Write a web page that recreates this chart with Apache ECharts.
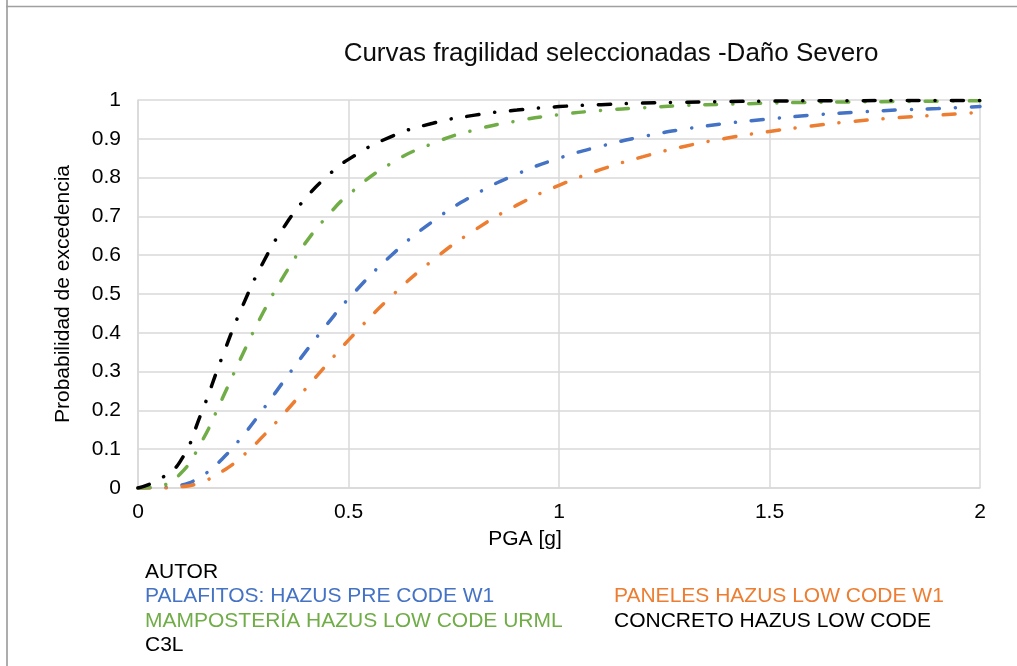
<!DOCTYPE html>
<html>
<head>
<meta charset="utf-8">
<script src="https://cdn.jsdelivr.net/npm/echarts@6/dist/echarts.min.js"></script>
<style>
html,body{margin:0;padding:0;background:#fff;}
#chart{width:1017px;height:666px;}
</style>
</head>
<body>
<div id="chart"></div>
<script>
// ---- data ----
const pga = [0,0.05,0.1,0.15,0.2,0.25,0.3,0.35,0.4,0.45,0.5,0.6,0.7,0.8,0.9,1.0,1.1,1.2,1.3,1.4,1.5,1.6,1.7,1.8,1.9,2.0];
const palafitos   = [0,0.001,0.007,0.030,0.075,0.136,0.207,0.281,0.354,0.423,0.488,0.598,0.687,0.756,0.809,0.850,0.881,0.906,0.925,0.940,0.951,0.961,0.968,0.974,0.978,0.983];
const paneles     = [0,0,0.003,0.015,0.043,0.084,0.137,0.196,0.258,0.320,0.381,0.492,0.587,0.665,0.729,0.780,0.821,0.854,0.881,0.902,0.919,0.933,0.945,0.954,0.961,0.968];
const mamposteria = [0,0.005,0.036,0.117,0.230,0.348,0.458,0.553,0.635,0.701,0.756,0.836,0.888,0.923,0.946,0.962,0.973,0.980,0.986,0.989,0.992,0.994,0.995,0.996,0.997,0.998];
const concreto    = [0,0.022,0.068,0.192,0.338,0.473,0.587,0.678,0.749,0.804,0.847,0.905,0.940,0.961,0.974,0.983,0.988,0.992,0.994,0.996,0.997,0.998,0.998,0.999,0.999,0.999];

const seriesNames = ['PALAFITOS: HAZUS PRE CODE W1','PANELES HAZUS LOW CODE W1','MAMPOSTERÍA HAZUS LOW CODE URML','CONCRETO HAZUS LOW CODE C3L'];
const seriesValues = [palafitos, paneles, mamposteria, concreto];
const seriesColors = ['#4472C4','#ED7D31','#70AD47','#000000'];

const titleText = 'Curvas fragilidad seleccionadas -Daño Severo';
const xAxisName = 'PGA [g]';
const yAxisName = 'Probabilidad de excedencia';

// legend text lines (as laid out in the reference)
const legendLines = [
  {text:'AUTOR', color:'#000000', col:0, row:0},
  {text:'PALAFITOS: HAZUS PRE CODE W1', color:'#4472C4', col:0, row:1},
  {text:'PANELES HAZUS LOW CODE W1', color:'#ED7D31', col:1, row:1},
  {text:'MAMPOSTERÍA HAZUS LOW CODE URML', color:'#70AD47', col:0, row:2},
  {text:'CONCRETO HAZUS LOW CODE', color:'#000000', col:1, row:2},
  {text:'C3L', color:'#000000', col:0, row:3}
];

const FONT = "'Liberation Sans', Arial, sans-serif";
const chart = echarts.init(document.getElementById('chart'), null, {renderer:'canvas'});

const colX = [145, 614];
const rowY = [574, 598, 623, 647];

const graphics = [
  {type:'line', shape:{x1:7, y1:0, x2:7, y2:666}, style:{stroke:'#ADADAD', lineWidth:2}, silent:true},
  {type:'line', shape:{x1:6, y1:6.5, x2:1017, y2:6.5}, style:{stroke:'#A0A0A0', lineWidth:1.5}, silent:true}
];
legendLines.forEach(l => {
  graphics.push({
    type:'text', left: colX[l.col], top: rowY[l.row] - 12,
    style:{text:l.text, fill:l.color, font:'21px ' + FONT}
  });
});

chart.setOption({
  backgroundColor:'#ffffff',
  animation:false,
  title:{
    text:titleText, left:606, top:36, textAlign:'center',
    textStyle:{fontFamily:FONT, fontSize:26, fontWeight:'normal', color:'#0d0d0d'}
  },
  grid:{left:138, right:37, top:100, bottom:178},
  xAxis:{
    type:'value', min:0, max:2, interval:0.5,
    name:xAxisName, nameLocation:'middle', nameGap:41,
    nameTextStyle:{fontFamily:FONT, fontSize:21, color:'#000', padding:[0,68,0,0]},
    axisLine:{show:true, lineStyle:{color:'#D9D9D9', width:1.5}},
    axisTick:{show:false},
    axisLabel:{fontFamily:FONT, fontSize:21, color:'#000', margin:14},
    splitLine:{show:true, lineStyle:{color:'#D9D9D9', width:1.5}}
  },
  yAxis:{
    type:'value', min:0, max:1, interval:0.1,
    name:yAxisName, nameLocation:'middle', nameGap:64,
    nameTextStyle:{fontFamily:FONT, fontSize:21, color:'#000'},
    axisLine:{show:true, lineStyle:{color:'#D9D9D9', width:1.5}},
    axisTick:{show:false},
    axisLabel:{fontFamily:FONT, fontSize:21, color:'#000', margin:17},
    splitLine:{show:true, lineStyle:{color:'#D9D9D9', width:1.5}}
  },
  series: seriesNames.map((n,i) => ({
    name:n, type:'line', showSymbol:false, smooth:0.5,
    data: pga.map((x,j) => [x, seriesValues[i][j]]),
    lineStyle:{color:seriesColors[i], width:3.5, type:[12,16,0.1,16], cap:'round'},
    itemStyle:{color:seriesColors[i]},
    z: 2 + i
  })),
  graphic: graphics
});
</script>
</body>
</html>
